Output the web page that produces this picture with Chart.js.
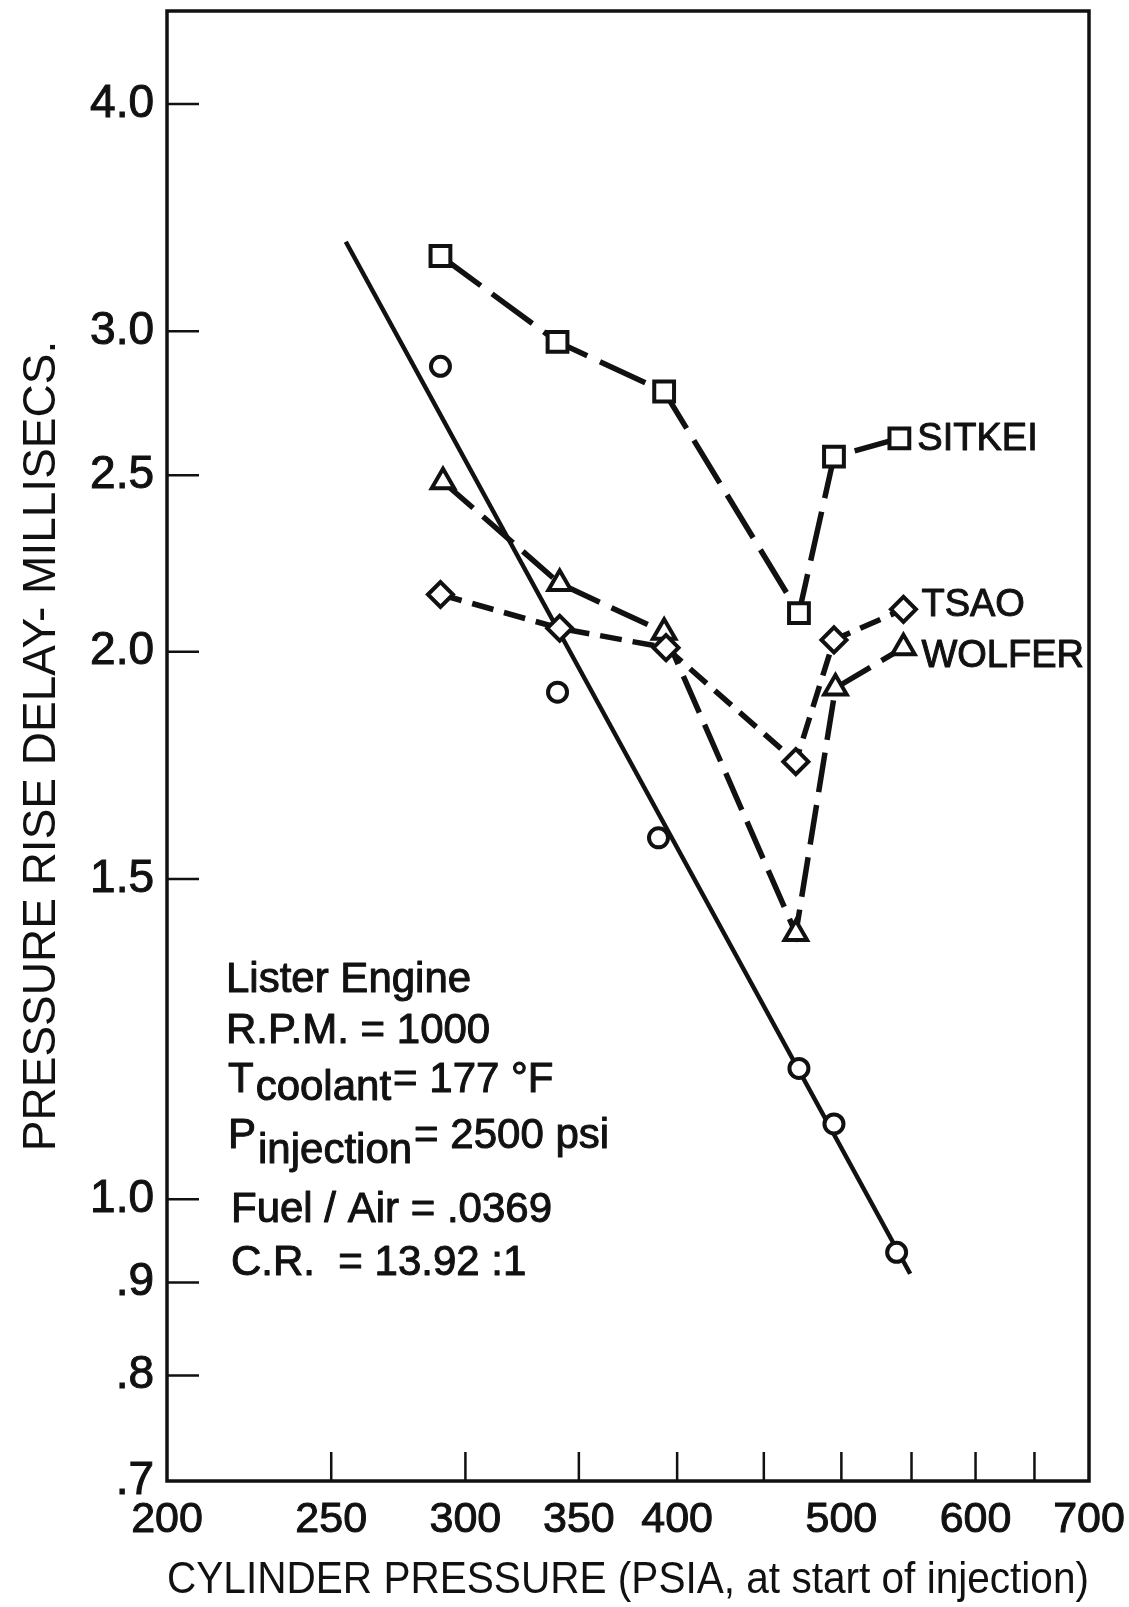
<!DOCTYPE html>
<html>
<head>
<meta charset="utf-8">
<script src="https://cdn.jsdelivr.net/npm/chart.js@4.4.1/dist/chart.umd.min.js"></script>
<style>
  html, body { margin: 0; padding: 0; background: #fff; }
  #wrap { width: 1129px; height: 1607px; }
</style>
</head>
<body>
<div id="wrap"><canvas id="delay-chart" width="1129" height="1607"></canvas></div>
<script>
// axis ticks
const xTicks = [200, 250, 300, 350, 400, 450, 500, 550, 600, 650, 700];
const xTickLabels = ["200", "250", "300", "350", "400", "", "500", "", "600", "", "700"];
const yTicks = [0.7, 0.8, 0.9, 1.0, 1.5, 2.0, 2.5, 3.0, 4.0];
const yTickLabels = [".7", ".8", ".9", "1.0", "1.5", "2.0", "2.5", "3.0", "4.0"];

// predicted delays (ms) vs cylinder pressure (psia)
const sitkeiX = [290, 340, 393, 472, 495, 541];
const sitkeiY = [3.30, 2.96, 2.78, 2.10, 2.56, 2.62];
const tsaoX = [290, 341, 394, 470, 495, 544];
const tsaoY = [2.15, 2.06, 2.01, 1.74, 2.03, 2.11];
const wolferX = [291, 341, 393, 470, 496, 544];
const wolferY = [2.48, 2.18, 2.05, 1.40, 1.91, 2.01];

// measured delays and fitted line
const measX = [290, 340, 390, 472, 495, 539];
const measY = [2.87, 1.90, 1.58, 1.18, 1.10, 0.935];
const fitX = [255, 549];
const fitY = [3.36, 0.91];

const seriesNames = ["SITKEI", "TSAO", "WOLFER"];

const noteLines = [
  [["Lister Engine", 0]],
  [["R.P.M. = 1000", 0]],
  [["T", 0], ["coolant", 8], ["= 177 °F", 0]],
  [["P", 0], ["injection", 15], ["= 2500 psi", 0]],
  [["Fuel / Air = .0369", 0]],
  [["C.R.  = 13.92 :1", 0]]
];

function pts(xs, ys) {
  return xs.map((x, i) => ({ x: x, y: ys[i] }));
}

const FONT = '"Liberation Sans", Arial, sans-serif';
const INK = "#111";

function inkText(ctx, txt, x, y) {
  ctx.strokeText(txt, x, y);
  ctx.fillText(txt, x, y);
}

const frameAndTicks = {
  id: "frameAndTicks",
  beforeDatasetsDraw(chart) {
    const { ctx, chartArea: a, scales } = chart;
    ctx.save();
    ctx.strokeStyle = INK;
    ctx.lineWidth = 2.5;
    ctx.beginPath();
    scales.x.ticks.forEach(t => {
      if (t.value <= 200 || t.value >= 700) return;
      const px = scales.x.getPixelForValue(t.value);
      ctx.moveTo(px, a.bottom);
      ctx.lineTo(px, a.bottom - 29);
    });
    scales.y.ticks.forEach(t => {
      if (t.value <= 0.7) return;
      const py = scales.y.getPixelForValue(t.value);
      ctx.moveTo(a.left, py);
      ctx.lineTo(a.left + 32, py);
    });
    ctx.stroke();
    ctx.lineWidth = 3.5;
    ctx.strokeRect(a.left, a.top, a.right - a.left, a.bottom - a.top);
    ctx.restore();
  },
  afterDraw(chart) {
    const { ctx, scales } = chart;
    ctx.save();
    ctx.fillStyle = INK;
    ctx.strokeStyle = INK;
    ctx.lineWidth = 1;
    ctx.lineJoin = "round";

    // series names next to their last points
    ctx.font = "38px " + FONT;
    ctx.textBaseline = "middle";
    ctx.textAlign = "left";
    const ends = [[sitkeiX, sitkeiY, 1], [tsaoX, tsaoY, -4], [wolferX, wolferY, 9]];
    ends.forEach((e, i) => {
      const n = e[0].length - 1;
      const px = scales.x.getPixelForValue(e[0][n]);
      const py = scales.y.getPixelForValue(e[1][n]);
      inkText(ctx, seriesNames[i], px + 18, py + e[2]);
    });

    // engine conditions block
    ctx.font = "42px " + FONT;
    ctx.textBaseline = "alphabetic";
    const starts = [[226, 992], [226, 1043], [228, 1092], [228, 1148], [231, 1222], [231, 1275]];
    noteLines.forEach((line, i) => {
      let x = starts[i][0];
      const y = starts[i][1];
      line.forEach(([txt, dy]) => {
        inkText(ctx, txt, x, y + dy);
        x += ctx.measureText(txt).width + 2;
      });
    });
    ctx.restore();
  }
};

const ctx = document.getElementById("delay-chart").getContext("2d");

const markerStyle = {
  pointBorderWidth: 4,
  pointBorderColor: INK,
  pointBackgroundColor: "#fff"
};

const chart = new Chart(ctx, {
  type: "scatter",
  data: {
    datasets: [
      Object.assign({
        label: "Measured",
        data: pts(measX, measY),
        showLine: false,
        pointStyle: "circle",
        pointRadius: 9.5
      }, markerStyle),
      Object.assign({
        label: "SITKEI",
        data: pts(sitkeiX, sitkeiY),
        showLine: true,
        borderColor: INK,
        borderWidth: 5.5,
        borderDash: [50, 14],
        pointStyle: "rect",
        pointRadius: 14
      }, markerStyle),
      Object.assign({
        label: "TSAO",
        data: pts(tsaoX, tsaoY),
        showLine: true,
        borderColor: INK,
        borderWidth: 5.5,
        borderDash: [22, 11],
        pointStyle: "rectRot",
        pointRadius: 12.5
      }, markerStyle),
      Object.assign({
        label: "WOLFER",
        data: pts(wolferX, wolferY),
        showLine: true,
        borderColor: INK,
        borderWidth: 5.5,
        borderDash: [40, 13],
        pointStyle: "triangle",
        pointRadius: 13
      }, markerStyle),
      {
        label: "Fit",
        data: pts(fitX, fitY),
        showLine: true,
        borderColor: INK,
        borderWidth: 4.5,
        pointRadius: 0
      }
    ]
  },
  options: {
    responsive: false,
    animation: false,
    devicePixelRatio: 1,
    layout: { autoPadding: false, padding: { top: 11, right: 40, bottom: 0, left: 0 } },
    plugins: {
      legend: { display: false },
      tooltip: { enabled: false }
    },
    scales: {
      x: {
        type: "logarithmic",
        min: 200,
        max: 700,
        grid: { display: false, drawTicks: false },
        border: { display: false },
        afterBuildTicks: s => { s.ticks = xTicks.map(v => ({ value: v })); },
        afterFit: s => { s.height = 126; s.paddingLeft = 0; s.paddingRight = 0; },
        ticks: {
          autoSkip: false,
          maxRotation: 0,
          padding: 13,
          color: INK,
          textStrokeColor: INK,
          textStrokeWidth: 1,
          font: { family: FONT, size: 43 },
          callback: (v, i) => xTickLabels[i]
        },
        title: {
          display: true,
          text: "CYLINDER PRESSURE (PSIA, at start of injection)",
          color: INK,
          font: { family: FONT, size: 44 },
          padding: { top: 0, bottom: 0 }
        }
      },
      y: {
        type: "logarithmic",
        min: 0.7,
        max: 4.5,
        grid: { display: false, drawTicks: false },
        border: { display: false },
        afterBuildTicks: s => { s.ticks = yTicks.map(v => ({ value: v })); },
        afterFit: s => { s.width = 167; s.paddingTop = 0; s.paddingBottom = 0; },
        ticks: {
          autoSkip: false,
          padding: 13,
          color: INK,
          textStrokeColor: INK,
          textStrokeWidth: 1,
          font: { family: FONT, size: 46 },
          callback: (v, i) => yTickLabels[i]
        },
        title: {
          display: true,
          text: "PRESSURE RISE DELAY- MILLISECS.",
          color: INK,
          font: { family: FONT, size: 46 },
          padding: { top: 15, bottom: 0 }
        }
      }
    }
  },
  plugins: [frameAndTicks]
});
</script>
</body>
</html>
